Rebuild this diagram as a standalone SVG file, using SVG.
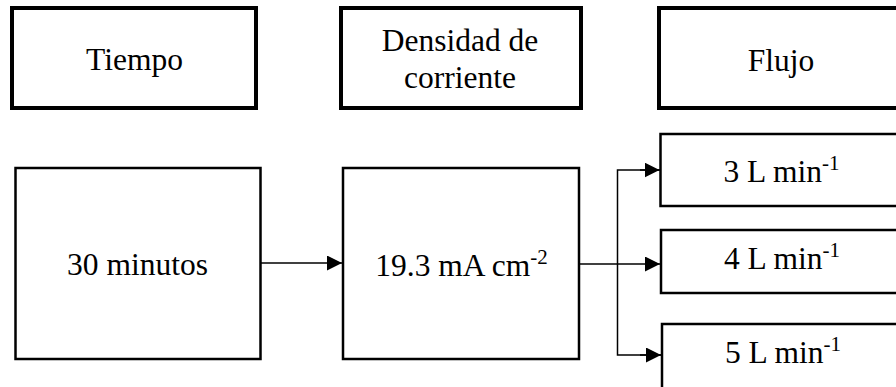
<svg xmlns="http://www.w3.org/2000/svg" width="896" height="387" viewBox="0 0 896 387">
<style>
.bt{fill:#fff;stroke:#000;stroke-width:4}
.bb{fill:#fff;stroke:#000;stroke-width:2.5}
.t{font-family:'Liberation Serif','Times New Roman',serif;font-size:31.5px;fill:#000;text-anchor:middle}
.sup{font-size:21px}
.c{fill:none;stroke:#000;stroke-width:1.5}
</style>
<defs>
<marker id="ah" markerUnits="userSpaceOnUse" markerWidth="16" markerHeight="16" refX="15" refY="7.5" orient="auto">
<path d="M0,0 L15,7.5 L0,15 Z" fill="#000"/>
</marker>
</defs>
<rect width="896" height="387" fill="#fff"/>
<g id="tiempo"><rect class="bt" x="12" y="8" width="244" height="100"/><text class="t" x="134.5" y="70">Tiempo</text></g>
<g id="densidad"><rect class="bt" x="341" y="8" width="240" height="100"/><text class="t" x="460" y="51">Densidad de</text><text class="t" x="460" y="88">corriente</text></g>
<g id="flujo"><rect class="bt" x="659" y="8" width="260" height="100"/><text class="t" x="781" y="71">Flujo</text></g>
<g id="minutos"><rect class="bb" x="15.5" y="168" width="245" height="191"/><text class="t" x="137.5" y="275">30 minutos</text></g>
<g id="corriente"><rect class="bb" x="343" y="168" width="236" height="191"/><text class="t" x="461.5" y="276">19.3 mA cm<tspan class="sup" dy="-12">-2</tspan></text></g>
<g id="f3"><rect class="bb" x="660.5" y="134" width="260" height="72"/><text class="t" x="781.5" y="182">3 L min<tspan class="sup" dy="-12">-1</tspan></text></g>
<g id="f4"><rect class="bb" x="661" y="230" width="260" height="63"/><text class="t" x="782" y="269">4 L min<tspan class="sup" dy="-12">-1</tspan></text></g>
<g id="f5"><rect class="bb" x="662" y="324" width="260" height="100"/><text class="t" x="783" y="363">5 L min<tspan class="sup" dy="-12">-1</tspan></text></g>
<g id="connectors">
<line class="c" x1="261" y1="263" x2="342" y2="263" marker-end="url(#ah)"/>
<line class="c" x1="580" y1="264" x2="660" y2="264" marker-end="url(#ah)"/>
<polyline class="c" points="661,170 617.5,170 617.5,355 661,355" />
<line class="c" x1="640" y1="170" x2="659.5" y2="170" marker-end="url(#ah)"/>
<line class="c" x1="640" y1="355" x2="661" y2="355" marker-end="url(#ah)"/>
</g>
</svg>
